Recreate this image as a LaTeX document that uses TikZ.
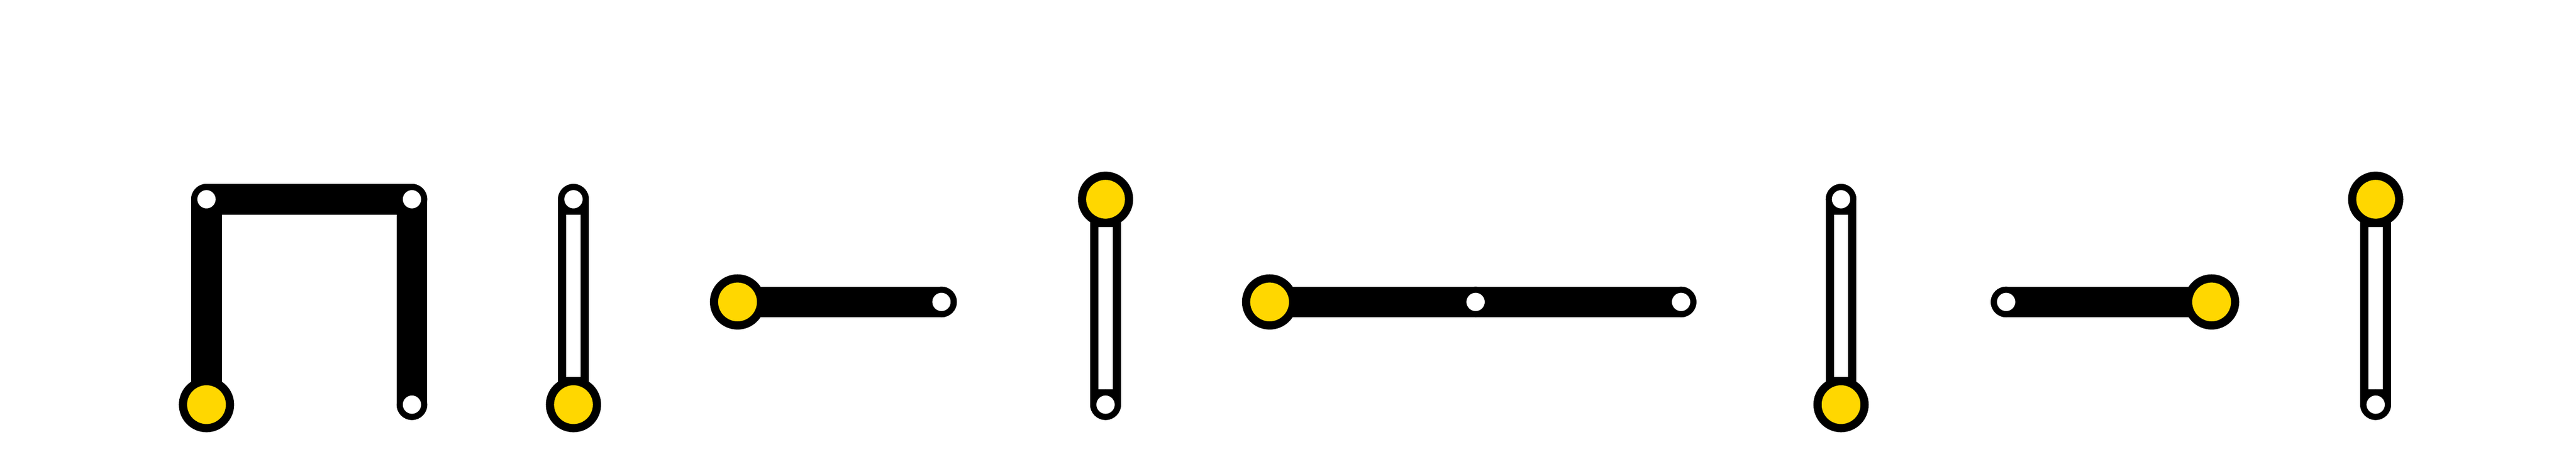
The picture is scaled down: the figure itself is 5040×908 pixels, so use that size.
\documentclass[tikz,border=0pt]{standalone}
\usetikzlibrary{backgrounds}
\definecolor{pinyellow}{HTML}{FFD700}
\tikzset{
  pin/.style={circle,draw=black,fill=white,line width=0.12cm,inner sep=0pt,minimum size=0.48cm},
  fixpin/.style={circle,draw=black,fill=pinyellow,line width=0.16cm,inner sep=0pt,minimum size=0.92cm},
  solidbar/.style={line width=0.6cm,line cap=round,line join=round},
  hollowbar/.style={white,line width=0.28cm}
}
\begin{document}
\begin{tikzpicture}[x=0.01cm,y=-0.01cm]
\useasboundingbox (0,0) rectangle (5040,908);
% frame
\node[fixpin] (a1) at (404,792) {};
\node[pin] (a2) at (404,390) {};
\node[pin] (a3) at (806,390) {};
\node[pin] (a4) at (806,792) {};
% hollow links
\node[pin] (b1) at (1122,390) {};
\node[fixpin] (b2) at (1122,792) {};
\node[fixpin] (d1) at (2163,390) {};
\node[pin] (d2) at (2163,792) {};
\node[pin] (f1) at (3602,390) {};
\node[fixpin] (f2) at (3602,792) {};
\node[fixpin] (h1) at (4648,390) {};
\node[pin] (h2) at (4648,792) {};
% solid links
\node[fixpin] (c1) at (1443,591) {};
\node[pin] (c2) at (1842,591) {};
\node[fixpin] (e1) at (2484,591) {};
\node[pin] (e2) at (2887,591) {};
\node[pin] (e3) at (3289,591) {};
\node[pin] (g1) at (3925,591) {};
\node[fixpin] (g2) at (4327,591) {};
\begin{scope}[on background layer]
\draw[solidbar] (a1.center) -- (a2.center) -- (a3.center) -- (a4.center);
\draw[solidbar] (c1.center) -- (c2.center);
\draw[solidbar] (e1.center) -- (e3.center);
\draw[solidbar] (g1.center) -- (g2.center);
\foreach \p/\q in {b1/b2,d1/d2,f1/f2,h1/h2} {
  \draw[solidbar] (\p.center) -- (\q.center);
  \draw[hollowbar] (\p) -- (\q);
}
\end{scope}
\end{tikzpicture}
\end{document}
